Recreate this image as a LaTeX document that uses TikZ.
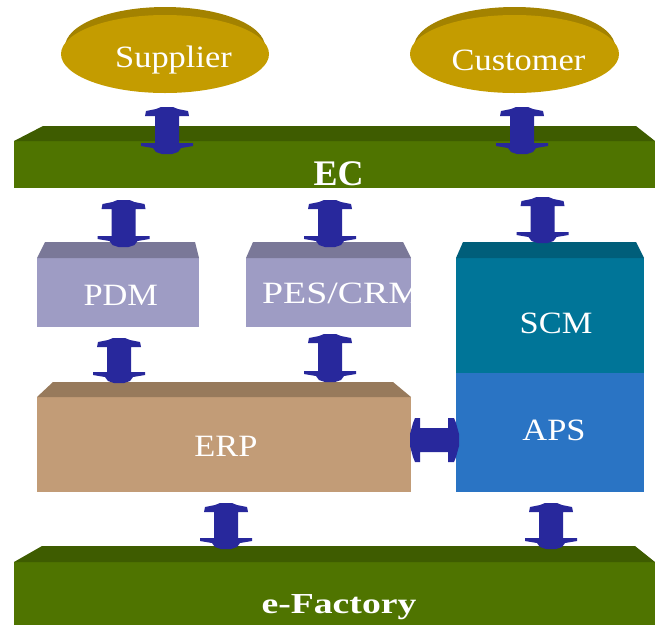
\documentclass[tikz,border=0pt]{standalone}
\usepackage{fontspec}
\usetikzlibrary{calc,shapes.geometric}
\newfontfamily\lblfont[FakeStretch=1.11]{Liberation Serif}
\newfontfamily\widelblfont[FakeStretch=1.22]{Liberation Serif}
\newfontfamily\barfont{Liberation Serif}
\newfontfamily\widebarfont[FakeStretch=1.3]{Liberation Serif}

\definecolor{goldmain}{HTML}{C49C00}
\definecolor{goldrim}{HTML}{A38200}
\definecolor{ectop}{HTML}{3E5C00}
\definecolor{ecfront}{HTML}{4F7400}
\definecolor{pdmtop}{HTML}{7A7898}
\definecolor{pdmfront}{HTML}{9E9CC4}
\definecolor{erptop}{HTML}{977A5C}
\definecolor{erpfront}{HTML}{C29C77}
\definecolor{scmtop}{HTML}{005E7A}
\definecolor{scmfront}{HTML}{007598}
\definecolor{apsfront}{HTML}{2A74C4}
\definecolor{arrowc}{HTML}{28289C}

% sloped top face of a box-like node
\newcommand\bevtop[5]{%
  \fill[#5] (#1.north west) -- ([xshift=#2pt,yshift=#4pt]#1.north west)
    -- ([xshift=-#3pt,yshift=#4pt]#1.north east) -- (#1.north east) -- cycle;}

\tikzset{
  face/.style={rectangle, inner sep=0pt, outer sep=0pt},
  disc/.style={ellipse, inner sep=0pt, outer sep=0pt},
  lbl/.style={text=white, inner sep=0pt, anchor=base,
    font=\lblfont\fontsize{31}{31}\selectfont},
  barlbl/.style={text=white, inner sep=0pt, anchor=base,
    font=\barfont\bfseries\fontsize{36}{36}\selectfont},
  arr/.style={fill=arrowc},
  % vertical double arrow, drawn from its top end to its bottom end
  vdbl/.style={to path={let \p1=(\tikztostart), \p2=(\tikztotarget) in
    (\x1-6pt,\y1) -- (\x1+6pt,\y1) -- (\x1+11pt,\y1-2pt) -- (\x1+21pt,\y1-4pt)
    -- (\x1+22pt,\y1-9pt) -- (\x1+12pt,\y1-9pt) -- (\x1+12pt,\y2+11pt)
    -- (\x1+26pt,\y2+11pt) -- (\x1+26pt,\y2+8pt) -- (\x1+14pt,\y2+6pt)
    -- (\x1+11pt,\y2+2pt) -- (\x1+5pt,\y2) -- (\x1-5pt,\y2)
    -- (\x1-11pt,\y2+2pt) -- (\x1-14pt,\y2+6pt) -- (\x1-26pt,\y2+8pt)
    -- (\x1-26pt,\y2+11pt) -- (\x1-12pt,\y2+11pt) -- (\x1-12pt,\y1-9pt)
    -- (\x1-22pt,\y1-9pt) -- (\x1-21pt,\y1-4pt) -- (\x1-11pt,\y1-2pt) -- cycle}},
  % horizontal double arrow, drawn from its left end to its right end
  hdbl/.style={to path={let \p1=(\tikztostart), \p2=(\tikztotarget) in
    (\x1,\y1+6pt) -- (\x1+3pt,\y1+17pt) -- (\x1+5pt,\y1+22pt) -- (\x1+10pt,\y1+22pt)
    -- (\x1+10pt,\y1+12pt) -- (\x2-11pt,\y1+12pt) -- (\x2-11pt,\y1+22pt)
    -- (\x2-5pt,\y1+22pt) -- (\x2-3pt,\y1+17pt) -- (\x2,\y1+6pt)
    -- (\x2,\y1-6pt) -- (\x2-3pt,\y1-17pt) -- (\x2-5pt,\y1-22pt)
    -- (\x2-11pt,\y1-22pt) -- (\x2-11pt,\y1-12pt) -- (\x1+10pt,\y1-12pt)
    -- (\x1+10pt,\y1-22pt) -- (\x1+5pt,\y1-22pt) -- (\x1+3pt,\y1-17pt)
    -- (\x1,\y1-6pt) -- cycle}},
}

\begin{document}
\begin{tikzpicture}[x=1pt,y=-1pt]
\useasboundingbox (0,0) rectangle (655,625);

% partners
\node[disc, fill=goldrim, minimum width=200pt, minimum height=80pt] (suprim) at (165,47) {};
\node[disc, fill=goldmain, minimum width=208pt, minimum height=78pt] (sup) at (165,54) {};
\node[disc, fill=goldrim, minimum width=201pt, minimum height=80pt] (custrim) at (514.5,47) {};
\node[disc, fill=goldmain, minimum width=209pt, minimum height=78pt] (cust) at (514.5,54) {};
\node[lbl] (supT) at (173.5,67) {Supplier};
\node[lbl] (custT) at (518.5,70) {Customer};

% EC bar
\node[face, fill=ecfront, minimum width=641pt, minimum height=47pt] (ec) at (334.5,164.5) {};
\bevtop{ec}{29}{19}{15}{ectop}
\node[barlbl] (ecT) at (338.5,185) {EC};

% application modules
\node[face, fill=pdmfront, minimum width=162pt, minimum height=69pt] (pdm) at (118,292.5) {};
\bevtop{pdm}{8}{4}{16}{pdmtop}
\node[face, fill=pdmfront, minimum width=165pt, minimum height=69pt] (pes) at (328.5,292.5) {};
\bevtop{pes}{7}{8}{16}{pdmtop}
\node[face, fill=scmfront, minimum width=188pt, minimum height=115pt] (scm) at (550,315.5) {};
\bevtop{scm}{7}{8}{16}{scmtop}
\node[face, fill=apsfront, minimum width=188pt, minimum height=119pt] (aps) at (550,432.5) {};
\node[face, fill=erpfront, minimum width=374pt, minimum height=95pt] (erp) at (224,444.5) {};
\bevtop{erp}{16}{18}{15}{erptop}

\node[lbl] (pdmT) at (120.8,305) {PDM};
\node[lbl, anchor=base west, font=\widelblfont\fontsize{31}{31}\selectfont] (pesT) at (262,303) {PES/CRM};
\node[lbl] (scmT) at (556,333) {SCM};
\node[lbl] (apsT) at (554,440) {APS};
\node[lbl] (erpT) at (226,456) {ERP};

% e-Factory bar
\node[face, fill=ecfront, minimum width=641pt, minimum height=63pt] (efac) at (334.5,593.5) {};
\bevtop{efac}{28}{20}{16}{ectop}
\node[text=white, inner sep=0pt, anchor=base,
  font=\widebarfont\bfseries\fontsize{29}{29}\selectfont] (efacT) at (339,613.5) {e-Factory};

% data flows
\fill[arr, vdbl] ($(sup.south)+(2,14)$) to ($(ec.north)+(0,13)$);
\fill[arr, vdbl] ($(cust.south)+(7.5,14)$) to ($(ec.north)+(0,13)$);
\fill[arr, vdbl] ($(pdm.north |- ec.south)+(5.5,12)$) to ($(pdm.north)+(0,-11)$);
\fill[arr, vdbl] ($(pes.north |- ec.south)+(1.5,12)$) to ($(pes.north)+(0,-11)$);
\fill[arr, vdbl] ($(scm.north |- ec.south)+(-7.5,9)$) to ($(scm.north)+(0,-15)$);
\fill[arr, vdbl] ($(pdm.south)+(1,11)$) to ($(erp.north)+(0,-14)$);
\fill[arr, vdbl] ($(pes.south)+(1.5,7)$) to ($(erp.north)+(0,-15)$);
\fill[arr, hdbl] ($(erp.east)+(-1,-4.5)$) to ($(aps.west)+(3,0)$);
\fill[arr, vdbl] ($(erp.south)+(2,11)$) to ($(efac.north)+(0,-13)$);
\fill[arr, vdbl] ($(aps.south)+(1,11)$) to ($(efac.north)+(0,-13)$);
\end{tikzpicture}
\end{document}
